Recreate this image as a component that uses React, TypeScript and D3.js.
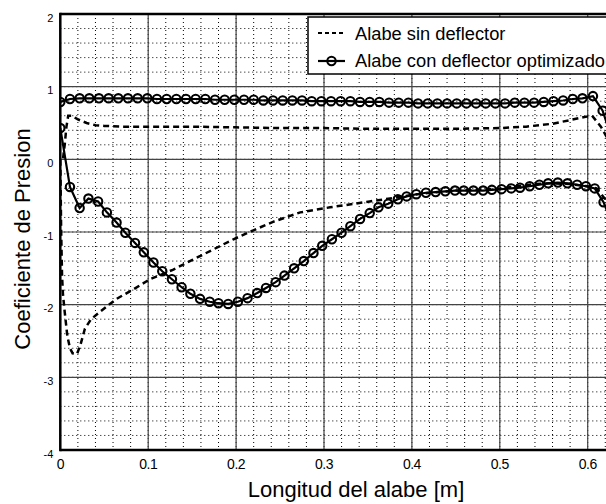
import React from "react";
import * as d3 from "d3";

// ---- data ----
const xTicks = [0, 0.1, 0.2, 0.3, 0.4, 0.5, 0.6];
const xTickLabels = ["0", "0.1", "0.2", "0.3", "0.4", "0.5", "0.6"];
const yTicks = [2, 1, 0, -1, -2, -3, -4];
const yTickLabels = ["2", "1", "0", "-1", "-2", "-3", "-4"];

// "Alabe con deflector optimizado" – upper surface (LE -> TE)
const optUpperX = [0, 0.011, 0.022, 0.033, 0.044, 0.055, 0.066, 0.077, 0.088, 0.099, 0.11, 0.121, 0.132, 0.143, 0.154, 0.165, 0.176, 0.187, 0.198, 0.209, 0.22, 0.231, 0.242, 0.253, 0.264, 0.275, 0.286, 0.297, 0.308, 0.319, 0.33, 0.341, 0.352, 0.363, 0.374, 0.385, 0.396, 0.407, 0.418, 0.429, 0.44, 0.451, 0.462, 0.473, 0.484, 0.495, 0.506, 0.517, 0.528, 0.539, 0.55, 0.561, 0.572, 0.583, 0.594, 0.606, 0.617, 0.627];
const optUpperY = [0.79, 0.83, 0.84, 0.84, 0.84, 0.84, 0.84, 0.84, 0.84, 0.84, 0.83, 0.83, 0.83, 0.83, 0.83, 0.83, 0.82, 0.82, 0.82, 0.82, 0.82, 0.81, 0.81, 0.81, 0.81, 0.81, 0.8, 0.8, 0.8, 0.8, 0.8, 0.79, 0.79, 0.79, 0.78, 0.78, 0.78, 0.77, 0.77, 0.77, 0.77, 0.77, 0.77, 0.77, 0.77, 0.77, 0.77, 0.78, 0.78, 0.78, 0.79, 0.8, 0.81, 0.83, 0.84, 0.87, 0.67, 0.3];
// lower surface (listed LE -> TE)
const optLowerX = [0, 0.011, 0.022, 0.032, 0.043, 0.053, 0.064, 0.074, 0.085, 0.095, 0.106, 0.116, 0.127, 0.138, 0.148, 0.159, 0.17, 0.18, 0.191, 0.202, 0.213, 0.224, 0.234, 0.245, 0.255, 0.266, 0.277, 0.288, 0.298, 0.309, 0.32, 0.33, 0.341, 0.352, 0.362, 0.373, 0.384, 0.394, 0.405, 0.416, 0.427, 0.438, 0.449, 0.459, 0.47, 0.481, 0.491, 0.502, 0.513, 0.523, 0.534, 0.545, 0.555, 0.566, 0.577, 0.588, 0.598, 0.608, 0.618, 0.628];
const optLowerY = [0.43, -0.38, -0.67, -0.54, -0.58, -0.73, -0.87, -1.01, -1.15, -1.28, -1.42, -1.54, -1.65, -1.76, -1.85, -1.92, -1.96, -1.98, -1.99, -1.96, -1.91, -1.84, -1.77, -1.69, -1.6, -1.5, -1.4, -1.29, -1.19, -1.1, -1.01, -0.92, -0.82, -0.74, -0.66, -0.61, -0.55, -0.51, -0.48, -0.46, -0.45, -0.44, -0.43, -0.43, -0.43, -0.43, -0.42, -0.41, -0.4, -0.39, -0.37, -0.35, -0.33, -0.32, -0.33, -0.35, -0.37, -0.4, -0.59, -0.9];

// "Alabe sin deflector" – upper surface (LE -> TE)
const baseUpperX = [0.003, 0.005, 0.007, 0.009, 0.013, 0.02, 0.03, 0.04, 0.05, 0.07, 0.1, 0.15, 0.2, 0.25, 0.3, 0.35, 0.4, 0.45, 0.5, 0.53, 0.56, 0.58, 0.595, 0.605, 0.615, 0.622, 0.63];
const baseUpperY = [0.0, 0.2, 0.45, 0.6, 0.6, 0.55, 0.5, 0.47, 0.46, 0.45, 0.45, 0.45, 0.44, 0.43, 0.43, 0.42, 0.42, 0.42, 0.43, 0.45, 0.49, 0.54, 0.58, 0.6, 0.45, 0.3, 0.05];
// lower surface (LE -> TE)
const baseLowerX = [0.0, 0.001, 0.002, 0.003, 0.005, 0.008, 0.011, 0.014, 0.019, 0.023, 0.028, 0.035, 0.045, 0.064, 0.083, 0.102, 0.128, 0.151, 0.174, 0.197, 0.219, 0.242, 0.273, 0.307, 0.352, 0.38, 0.4, 0.42, 0.45, 0.48, 0.5, 0.52, 0.54, 0.56, 0.58, 0.6, 0.61, 0.62, 0.63];
const baseLowerY = [0.0, -1.0, -1.6, -1.85, -2.1, -2.43, -2.6, -2.67, -2.68, -2.55, -2.33, -2.2, -2.1, -1.92, -1.79, -1.65, -1.52, -1.38, -1.24, -1.1, -0.98, -0.86, -0.73, -0.66, -0.58, -0.53, -0.49, -0.46, -0.43, -0.42, -0.4, -0.37, -0.34, -0.33, -0.34, -0.37, -0.4, -0.55, -0.9];

const legendLabels = ["Alabe sin deflector", "Alabe con deflector optimizado"];

// ---- layout ----
const W = 606;
const H = 504;
const left = 60.3;
const top = 14;
const bottom = 450;
const pxPerUnitX = 879;
const xMax = 0.7;
const FONT = "'Liberation Sans', Arial, Helvetica, sans-serif";

export default function App() {
  const x = d3.scaleLinear().domain([0, xMax]).range([left, left + xMax * pxPerUnitX]);
  const y = d3.scaleLinear().domain([-4, 2]).range([bottom, top]);
  const right = x(xMax);

  const minorX = d3.range(0, xMax + 1e-9, 0.02);
  const minorY = d3.range(-4, 2 + 1e-9, 0.2);

  type P = [number, number];
  const line = d3.line<P>().x((d) => x(d[0])).y((d) => y(d[1]));

  const optPts: P[] = [
    ...optUpperX.map((v, i) => [v, optUpperY[i]] as P),
    ...optLowerX.map((v, i) => [v, optLowerY[i]] as P).reverse(),
  ];
  const basePts: P[] = [
    ...baseUpperX.map((v, i) => [v, baseUpperY[i]] as P).reverse(),
    ...baseLowerX.map((v, i) => [v, baseLowerY[i]] as P),
  ];

  return (
    <svg
      width={W}
      height={H}
      style={{ position: "absolute", left: 0, top: 0, background: "#fff" }}
      fontFamily={FONT}
    >
      <defs>
        <clipPath id="plotclip">
          <rect x={left} y={top} width={right - left} height={bottom - top} />
        </clipPath>
      </defs>
      <rect x={0} y={0} width={W} height={H} fill="#fff" />
      {/* minor grid */}
      <g stroke="#000" strokeWidth={1} strokeDasharray="1,3">
        {minorX.map((v, i) => (
          <line key={"mx" + i} x1={x(v)} x2={x(v)} y1={top} y2={bottom} />
        ))}
        {minorY.map((v, i) => (
          <line key={"my" + i} x1={left} x2={right} y1={y(v)} y2={y(v)} />
        ))}
      </g>
      {/* major grid */}
      <g stroke="#444" strokeWidth={1.2}>
        {xTicks.map((v, i) => (
          <line key={"gx" + i} x1={x(v)} x2={x(v)} y1={top} y2={bottom} />
        ))}
        {yTicks.map((v, i) => (
          <line key={"gy" + i} x1={left} x2={right} y1={y(v)} y2={y(v)} />
        ))}
      </g>
      {/* data */}
      <g clipPath="url(#plotclip)">
        <path d={line(basePts) || ""} fill="none" stroke="#000" strokeWidth={2.5} strokeDasharray="6,4" />
        <path d={line(optPts) || ""} fill="none" stroke="#000" strokeWidth={2.2} />
        {optPts.map((p, i) => (
          <circle key={"m" + i} cx={x(p[0])} cy={y(p[1])} r={4.2} fill="none" stroke="#000" strokeWidth={2.1} />
        ))}
      </g>
      {/* frame */}
      <g stroke="#000" strokeWidth={2.5} fill="none">
        <line x1={left} x2={left} y1={top - 1.2} y2={bottom + 1.2} />
        <line x1={left} x2={right} y1={bottom} y2={bottom} />
        <line x1={left} x2={right} y1={top} y2={top} />
      </g>
      {/* ticks */}
      <g fontSize={14} textAnchor="middle" fill="#000">
        {xTicks.map((v, i) => (
          <text key={"xt" + i} x={x(v)} y={bottom + 19} letterSpacing={-0.5}>
            {xTickLabels[i]}
          </text>
        ))}
      </g>
      <g fontSize={11} textAnchor="end" fill="#000">
        {yTicks.map((v, i) => (
          <text key={"yt" + i} x={left - 7} y={y(v) + 7.5}>
            {yTickLabels[i]}
          </text>
        ))}
      </g>
      {/* axis labels */}
      <text x={356} y={497} fontSize={22} textAnchor="middle" fill="#000">
        Longitud del alabe [m]
      </text>
      <text
        transform={`translate(30,${(top + bottom) / 2 + 7}) rotate(-90)`}
        fontSize={22}
        textAnchor="middle"
        fill="#000"
      >
        Coeficiente de Presion
      </text>
      {/* legend */}
      <g>
        <rect x={308} y={17} width={340} height={57} fill="#fff" stroke="#000" strokeWidth={1.5} />
        <line x1={318} x2={344} y1={33} y2={33} stroke="#000" strokeWidth={2.2} strokeDasharray="4,3" />
        <line x1={318} x2={345} y1={61} y2={61} stroke="#000" strokeWidth={2.2} />
        <circle cx={331.5} cy={61} r={4.2} fill="none" stroke="#000" strokeWidth={2.1} />
        <text x={355} y={39.5} fontSize={18.3} fill="#000">{legendLabels[0]}</text>
        <text x={355} y={67} fontSize={18.3} fill="#000">{legendLabels[1]}</text>
      </g>
    </svg>
  );
}
